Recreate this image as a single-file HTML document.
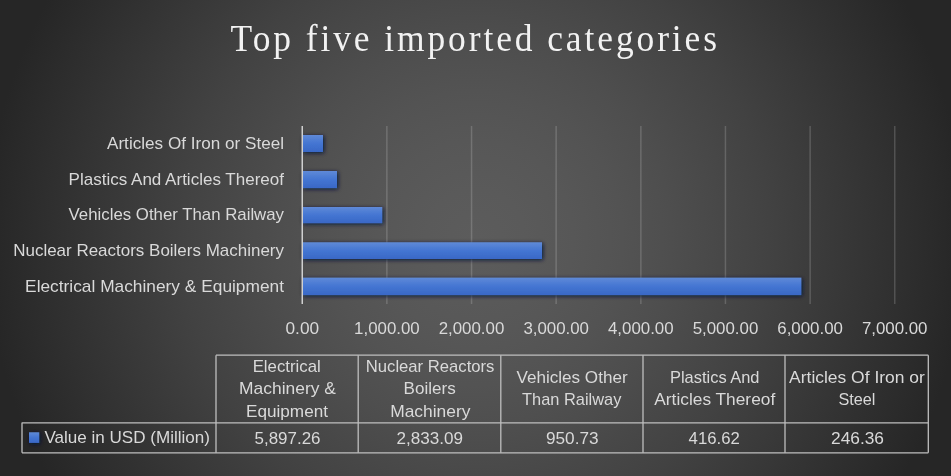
<!DOCTYPE html>
<html lang="en"><head><meta charset="utf-8"><title>Top five imported categories</title>
<style>html,body{margin:0;padding:0;background:#2a2a2a;}body{width:951px;height:476px;overflow:hidden;}svg{display:block;}.s{font-family:"Liberation Sans",sans-serif;font-size:17.0px;fill:#d9d9d9;}.n{font-family:"Liberation Sans",sans-serif;font-size:16px;fill:#d9d9d9;}.t{font-family:"Liberation Serif",serif;font-size:37px;fill:#f2f2f2;}</style></head><body>
<svg width="951" height="476" viewBox="0 0 951 476">
<defs><radialGradient id="bg" gradientUnits="userSpaceOnUse" cx="475.5" cy="238" r="490"><stop offset="0.0" stop-color="#5c5c5c"/><stop offset="0.1" stop-color="#5a5a5a"/><stop offset="0.2" stop-color="#575757"/><stop offset="0.3" stop-color="#535353"/><stop offset="0.4" stop-color="#4e4e4e"/><stop offset="0.5" stop-color="#484848"/><stop offset="0.6" stop-color="#424242"/><stop offset="0.7" stop-color="#3b3b3b"/><stop offset="0.8" stop-color="#343434"/><stop offset="0.9" stop-color="#2d2d2d"/><stop offset="1.0" stop-color="#262626"/></radialGradient><linearGradient id="bar" x1="0" y1="0" x2="0" y2="1"><stop offset="0" stop-color="#5f8ad8"/><stop offset="0.5" stop-color="#4475d2"/><stop offset="1" stop-color="#3968c6"/></linearGradient><filter id="sh" x="-40%" y="-40%" width="180%" height="190%"><feGaussianBlur in="SourceAlpha" stdDeviation="1.9"/><feOffset dx="0.9" dy="1.3" result="b"/><feFlood flood-color="#0a1538" flood-opacity="0.95"/><feComposite in2="b" operator="in"/><feMerge><feMergeNode/><feMergeNode in="SourceGraphic"/></feMerge></filter></defs>
<rect width="951" height="476" fill="url(#bg)"/>
<text class="t" transform="translate(230.6 51) scale(0.958 1)" x="0" y="0" textLength="507.8" lengthAdjust="spacing">Top five imported categories</text>
<rect x="386.1" y="126" width="1.5" height="178" fill="#ffffff" fill-opacity="0.17"/>
<rect x="470.8" y="126" width="1.5" height="178" fill="#ffffff" fill-opacity="0.17"/>
<rect x="555.4" y="126" width="1.5" height="178" fill="#ffffff" fill-opacity="0.17"/>
<rect x="640.1" y="126" width="1.5" height="178" fill="#ffffff" fill-opacity="0.17"/>
<rect x="724.7" y="126" width="1.5" height="178" fill="#ffffff" fill-opacity="0.17"/>
<rect x="809.4" y="126" width="1.5" height="178" fill="#ffffff" fill-opacity="0.17"/>
<rect x="894.0" y="126" width="1.5" height="178" fill="#ffffff" fill-opacity="0.17"/>
<rect x="302.3" y="135.0" width="20.7" height="17.0" fill="url(#bar)" filter="url(#sh)"/>
<rect x="302.3" y="171.0" width="34.7" height="17.1" fill="url(#bar)" filter="url(#sh)"/>
<rect x="302.3" y="207.0" width="79.9" height="16.2" fill="url(#bar)" filter="url(#sh)"/>
<rect x="302.3" y="242.3" width="239.7" height="16.7" fill="url(#bar)" filter="url(#sh)"/>
<rect x="302.3" y="277.7" width="499.0" height="17.4" fill="url(#bar)" filter="url(#sh)"/>
<rect x="301.5" y="126" width="1.5" height="178" fill="#d0d0d0"/>
<text class="s" x="107" y="148.6" textLength="177.0" lengthAdjust="spacingAndGlyphs">Articles Of Iron or Steel</text>
<text class="s" x="68.6" y="184.6" textLength="215.4" lengthAdjust="spacingAndGlyphs">Plastics And Articles Thereof</text>
<text class="s" x="68.6" y="220.3" textLength="215.4" lengthAdjust="spacingAndGlyphs">Vehicles Other Than Railway</text>
<text class="s" x="13.2" y="256.0" textLength="270.8" lengthAdjust="spacingAndGlyphs">Nuclear Reactors Boilers Machinery</text>
<text class="s" x="25.1" y="291.8" textLength="258.9" lengthAdjust="spacingAndGlyphs">Electrical Machinery &amp; Equipment</text>
<text class="n" x="285.5" y="334" textLength="33.6" lengthAdjust="spacingAndGlyphs">0.00</text>
<text class="n" x="354.1" y="334" textLength="65.6" lengthAdjust="spacingAndGlyphs">1,000.00</text>
<text class="n" x="438.7" y="334" textLength="65.6" lengthAdjust="spacingAndGlyphs">2,000.00</text>
<text class="n" x="523.4" y="334" textLength="65.6" lengthAdjust="spacingAndGlyphs">3,000.00</text>
<text class="n" x="608.0" y="334" textLength="65.6" lengthAdjust="spacingAndGlyphs">4,000.00</text>
<text class="n" x="692.7" y="334" textLength="65.6" lengthAdjust="spacingAndGlyphs">5,000.00</text>
<text class="n" x="777.3" y="334" textLength="65.6" lengthAdjust="spacingAndGlyphs">6,000.00</text>
<text class="n" x="861.9" y="334" textLength="65.6" lengthAdjust="spacingAndGlyphs">7,000.00</text>
<g fill="none" stroke="#bfbfbf" stroke-width="1.3">
<path d="M216 355.2H928.3 M22 422.8H928.3 M22 452.8H928.3 M22 422.5V452.8"/>
<path d="M216 355.2V452.8"/>
<path d="M358.2 355.2V452.8"/>
<path d="M500.8 355.2V452.8"/>
<path d="M643 355.2V452.8"/>
<path d="M785 355.2V452.8"/>
<path d="M928.3 355.2V452.8"/>
</g>
<rect x="29" y="432.3" width="10.2" height="10.6" fill="url(#bar)" filter="url(#sh)"/>
<text class="s" x="44.4" y="443.0" textLength="165.6" lengthAdjust="spacingAndGlyphs">Value in USD (Million)</text>
<text class="s" x="252.7" y="371.9" textLength="68.0" lengthAdjust="spacingAndGlyphs">Electrical</text>
<text class="s" x="239.1" y="394.0" textLength="96.8" lengthAdjust="spacingAndGlyphs">Machinery &amp;</text>
<text class="s" x="246.0" y="416.8" textLength="82.0" lengthAdjust="spacingAndGlyphs">Equipment</text>
<text class="n" x="254.5" y="444" textLength="66.0" lengthAdjust="spacingAndGlyphs">5,897.26</text>
<text class="s" x="365.8" y="371.9" textLength="128.6" lengthAdjust="spacingAndGlyphs">Nuclear Reactors</text>
<text class="s" x="403.6" y="394.0" textLength="52.1" lengthAdjust="spacingAndGlyphs">Boilers</text>
<text class="s" x="390.2" y="416.8" textLength="80.3" lengthAdjust="spacingAndGlyphs">Machinery</text>
<text class="n" x="396.5" y="444" textLength="66.5" lengthAdjust="spacingAndGlyphs">2,833.09</text>
<text class="s" x="516.5" y="382.8" textLength="111.1" lengthAdjust="spacingAndGlyphs">Vehicles Other</text>
<text class="s" x="522.1" y="405.3" textLength="99.3" lengthAdjust="spacingAndGlyphs">Than Railway</text>
<text class="n" x="546.0" y="444" textLength="52.5" lengthAdjust="spacingAndGlyphs">950.73</text>
<text class="s" x="670.0" y="382.8" textLength="89.5" lengthAdjust="spacingAndGlyphs">Plastics And</text>
<text class="s" x="654.3" y="405.3" textLength="120.9" lengthAdjust="spacingAndGlyphs">Articles Thereof</text>
<text class="n" x="688.6" y="444" textLength="51.2" lengthAdjust="spacingAndGlyphs">416.62</text>
<text class="s" x="789.1" y="382.8" textLength="135.7" lengthAdjust="spacingAndGlyphs">Articles Of Iron or</text>
<text class="s" x="838.4" y="405.3" textLength="37.0" lengthAdjust="spacingAndGlyphs">Steel</text>
<text class="n" x="831.0" y="444" textLength="53.0" lengthAdjust="spacingAndGlyphs">246.36</text>
</svg></body></html>
